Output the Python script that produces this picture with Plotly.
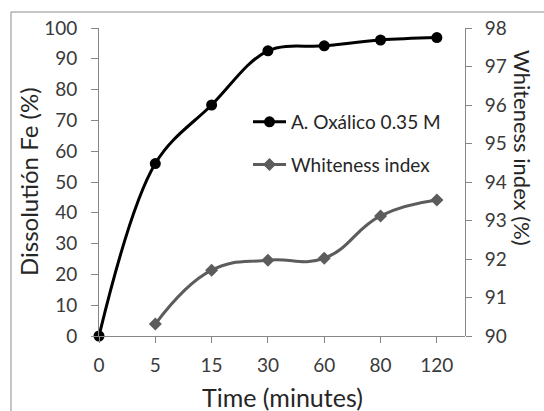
import plotly.graph_objects as go

categories = ["0", "5", "15", "30", "60", "80", "120"]
dissolution = [0, 56, 75, 92.6, 94.2, 96.1, 96.9]
whiteness_cats = ["5", "15", "30", "60", "80", "120"]
whiteness = [90.31, 91.71, 91.97, 92.02, 93.12, 93.53]

xi = {c: i for i, c in enumerate(categories)}

W, H = 544, 411
L, R, T, B = 99, 79, 28, 75
pw, ph = W - L - R, H - T - B

def px(xp):
    return (xp - L) / pw

def py(yp):
    return (H - B - yp) / ph

FONT = "Lato, Open Sans, sans-serif"
AX = "#868686"
TICKC = "#3a3a3a"

fig = go.Figure()
fig.add_trace(go.Scatter(
    x=[xi[c] for c in categories], y=dissolution, name="A. Oxálico 0.35 M",
    mode="lines+markers", line=dict(color="black", width=3, shape="spline", smoothing=1.0),
    marker=dict(symbol="circle", size=11, color="black"), legendgroup="a", cliponaxis=False))
fig.add_trace(go.Scatter(
    x=[xi[c] for c in whiteness_cats], y=whiteness, name="Whiteness index", yaxis="y2",
    mode="lines+markers", line=dict(color="#5c5c5c", width=3, shape="spline", smoothing=1.25),
    marker=dict(symbol="diamond", size=10, color="#5c5c5c"), legendgroup="b", cliponaxis=False))

fig.update_layout(
    width=W, height=H, margin=dict(l=L, r=R, t=T, b=B),
    paper_bgcolor="white", plot_bgcolor="white",
    font=dict(family=FONT, size=19, color=TICKC),
    showlegend=True,
    legend=dict(x=px(248), y=py(103), xanchor="left", yanchor="top",
                bgcolor="rgba(0,0,0,0)", tracegroupgap=15,
                font=dict(size=19, color="#262626"), itemwidth=33),
    xaxis=dict(range=[0, 6.5], tickmode="array", tickvals=list(range(len(categories))),
               ticktext=categories, showgrid=False, zeroline=False, showline=True,
               linecolor=AX, linewidth=1, ticks="outside", ticklen=6, tickcolor=AX,
               ticklabelstandoff=6, tickfont=dict(size=19, color=TICKC)),
    yaxis=dict(range=[0, 100], dtick=10, showgrid=False, zeroline=False, showline=True,
               linecolor=AX, linewidth=1, ticks="outside", ticklen=7, tickcolor=AX,
               ticklabelstandoff=10, tickfont=dict(size=19, color=TICKC)),
    yaxis2=dict(range=[90, 98], dtick=1, overlaying="y", side="right", anchor="free",
                position=1.0, showgrid=False, zeroline=False, showline=True,
                linecolor=AX, linewidth=1, ticks="outside", ticklen=6, tickcolor=AX,
                ticklabelstandoff=9, tickfont=dict(size=19, color=TICKC)),
    shapes=[dict(type="rect", xref="paper", yref="paper",
                 x0=px(11), x1=px(600), y0=py(470), y1=py(12),
                 line=dict(color="#8c8c8c", width=1), fillcolor="rgba(0,0,0,0)", layer="below")],
    annotations=[
        dict(text="Dissolutión Fe (%)", xref="paper", yref="paper", x=px(28), y=py(182),
             xanchor="center", yanchor="middle", textangle=-90, showarrow=False,
             font=dict(size=24, color="#262626")),
        dict(text="Whiteness index (%)", xref="paper", yref="paper", x=px(523), y=py(148),
             xanchor="center", yanchor="middle", textangle=90, showarrow=False,
             font=dict(size=22, color="#262626")),
        dict(text="Time (minutes)", xref="paper", yref="paper", x=px(282), y=py(397),
             xanchor="center", yanchor="middle", showarrow=False,
             font=dict(size=25, color="#262626")),
    ],
)

fig.write_html("out.html")
